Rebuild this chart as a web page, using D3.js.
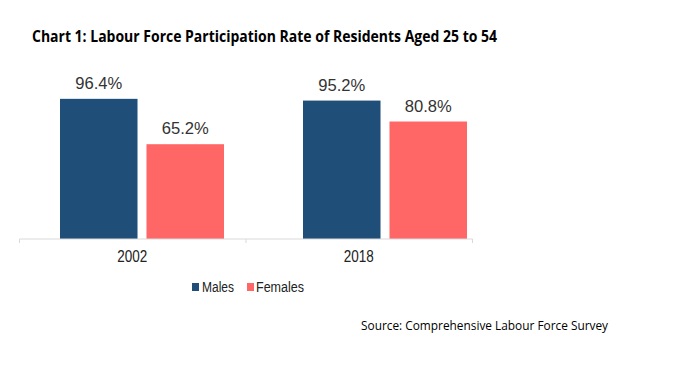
<!DOCTYPE html>
<html><head><meta charset="utf-8">
<script src="https://cdn.jsdelivr.net/npm/d3@7"></script>
<style>html,body{margin:0;padding:0;background:#fff;}</style>
</head><body>
<svg id="c" width="694" height="372"></svg>
<script>
const years = ["2002", "2018"];
const series = ["Males", "Females"];
const males = [96.4, 95.2];
const females = [65.2, 80.8];
const colors = ["#1F4E79", "#FF6666"];
const titleText = "Chart 1: Labour Force Participation Rate of Residents Aged 25 to 54";
const sourceText = "Source: Comprehensive Labour Force Survey";

const data = years.map((y, i) => ({year: y, values: [males[i], females[i]]}));

const svg = d3.select("#c");
const baseY = 239;

// scales
const y = d3.scaleLinear().domain([0, 100]).range([baseY, baseY - 145.4]);
const xAxisScale = d3.scaleBand().domain(years).range([19, 472]);
const xBars = d3.scaleBand().domain(years).range([20.5, 506.5]);
const xInner = d3.scaleBand().domain(series).range([39.5, 203.5]).paddingInner(0.104);
const color = d3.scaleOrdinal().domain(series).range(colors);

// title
svg.append("text").attr("x", 32).attr("y", 42)
  .attr("font-family", "'Open Sans', sans-serif").attr("font-weight", "bold")
  .attr("font-size", 16).attr("fill", "#000")
  .attr("textLength", 465).attr("lengthAdjust", "spacingAndGlyphs")
  .text(titleText);

// bars
const g = svg.append("g");
const groups = g.selectAll("g.grp").data(data).enter().append("g")
  .attr("transform", d => `translate(${xBars(d.year)},0)`);
groups.selectAll("rect").data(d => d.values.map((v, i) => ({s: series[i], v})))
  .enter().append("rect")
  .attr("x", d => xInner(d.s)).attr("width", xInner.bandwidth())
  .attr("y", d => y(d.v)).attr("height", d => baseY - y(d.v))
  .attr("fill", d => color(d.s));
groups.selectAll("text").data(d => d.values.map((v, i) => ({s: series[i], v})))
  .enter().append("text")
  .attr("x", d => xInner(d.s) + xInner.bandwidth() / 2)
  .attr("y", d => y(d.v) - 10)
  .attr("text-anchor", "middle")
  .attr("font-family", "'Liberation Sans', Arial, sans-serif")
  .attr("font-size", 16).attr("fill", "#333")
  .attr("textLength", 47).attr("lengthAdjust", "spacingAndGlyphs")
  .text(d => d.v.toFixed(1) + "%");

// x axis
const axis = svg.append("g").attr("transform", `translate(0,${baseY})`)
  .call(d3.axisBottom(xAxisScale).tickSize(0).tickPadding(0).tickFormat(""));
axis.select(".domain").attr("stroke", "#D9D9D9").attr("d", `M19.5,0H472.5`);
const tickPos = [19.5].concat(years.map(yy => xAxisScale(yy) + xAxisScale.bandwidth() + 0.5));
axis.selectAll("line.tk").data(tickPos).enter().append("line").attr("class", "tk")
  .attr("x1", d => d).attr("x2", d => d).attr("y1", 0).attr("y2", 4)
  .attr("stroke", "#D9D9D9");
svg.append("g").selectAll("text").data(years).enter().append("text")
  .attr("x", d => xAxisScale(d) + xAxisScale.bandwidth() / 2)
  .attr("y", 262).attr("text-anchor", "middle")
  .attr("font-family", "'Liberation Sans', Arial, sans-serif")
  .attr("font-size", 16).attr("fill", "#222")
  .attr("textLength", 30).attr("lengthAdjust", "spacingAndGlyphs")
  .text(d => d);

// legend
const legend = [
  {s: "Males", sx: 192, tx: 202, tw: 32},
  {s: "Females", sx: 247, tx: 256, tw: 48}
];
const lg = svg.append("g");
lg.selectAll("rect").data(legend).enter().append("rect")
  .attr("x", d => d.sx).attr("y", 283).attr("width", 7).attr("height", 8)
  .attr("fill", d => color(d.s));
lg.selectAll("text").data(legend).enter().append("text")
  .attr("x", d => d.tx).attr("y", 292)
  .attr("font-family", "'Liberation Sans', Arial, sans-serif")
  .attr("font-size", 14).attr("fill", "#222")
  .attr("textLength", d => d.tw).attr("lengthAdjust", "spacingAndGlyphs")
  .text(d => d.s);

// source
svg.append("text").attr("x", 361).attr("y", 330)
  .attr("font-family", "'Open Sans', sans-serif")
  .attr("font-size", 13).attr("fill", "#000")
  .attr("textLength", 247).attr("lengthAdjust", "spacingAndGlyphs")
  .text(sourceText);
</script>
</body></html>
